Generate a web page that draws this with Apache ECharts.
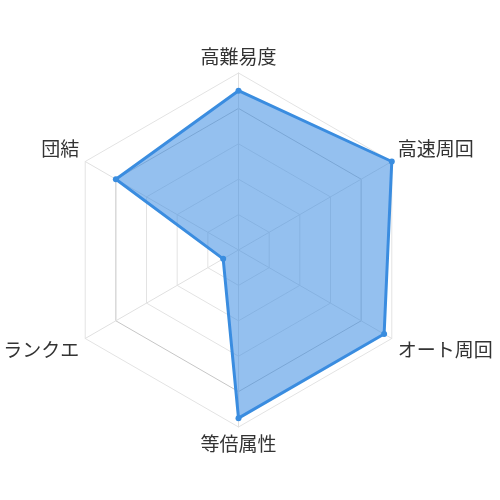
<!DOCTYPE html>
<html>
<head>
<meta charset="utf-8">
<script src="https://cdn.jsdelivr.net/npm/echarts@6/dist/echarts.min.js"></script>
<style>html,body{margin:0;padding:0;background:#fff}#c{width:500px;height:500px}</style>
</head>
<body>
<div id="c"></div>
<script>
// ECharts places radar indicators counter-clockwise starting from the top
const indicators = ['高難易度', '団結', 'ランクエ', '等倍属性', 'オート周回', '高速周回'];
const maxValue = 10;
const values = [9, 8, 1, 9.5, 9.5, 10];
const upperSide = ['団結', '高速周回'];
const lowerSide = ['ランクエ', 'オート周回'];

const nameStyle = {color: '#333', fontSize: 19, fontFamily: '"Noto Sans CJK JP", sans-serif'};

const chart = echarts.init(document.getElementById('c'), null, {renderer: 'canvas'});
chart.setOption({
  animation: false,
  radar: {
    center: ['47.7%', '50%'],
    radius: 177,
    startAngle: 90,
    splitNumber: 5,
    shape: 'polygon',
    nameGap: 7,
    indicator: indicators.map(n => ({name: n, max: maxValue})),
    axisName: Object.assign({}, nameStyle, {
      formatter: function (name) {
        if (upperSide.indexOf(name) >= 0) return '{up|' + name + '}';
        if (lowerSide.indexOf(name) >= 0) return '{down|' + name + '}';
        return '{n|' + name + '}';
      },
      rich: {
        n: Object.assign({}, nameStyle),
        up: Object.assign({}, nameStyle, {padding: [0, 0, 18, 0]}),
        down: Object.assign({}, nameStyle, {padding: [16, 0, 0, 0]})
      }
    }),
    axisLine: {lineStyle: {color: '#e0e0e0', width: 1}},
    splitLine: {lineStyle: {color: ['#e3e3e3', '#e3e3e3', '#e3e3e3', '#e3e3e3', '#c6c6c6'], width: 1}},
    splitArea: {show: false}
  },
  series: [{
    type: 'radar',
    symbol: 'circle',
    symbolSize: 6,
    data: [{
      value: values,
      lineStyle: {color: '#3a8ddf', width: 3},
      itemStyle: {color: '#3a8ddf'},
      areaStyle: {color: 'rgba(60,140,225,0.55)', opacity: 1}
    }]
  }]
});
</script>
</body>
</html>
